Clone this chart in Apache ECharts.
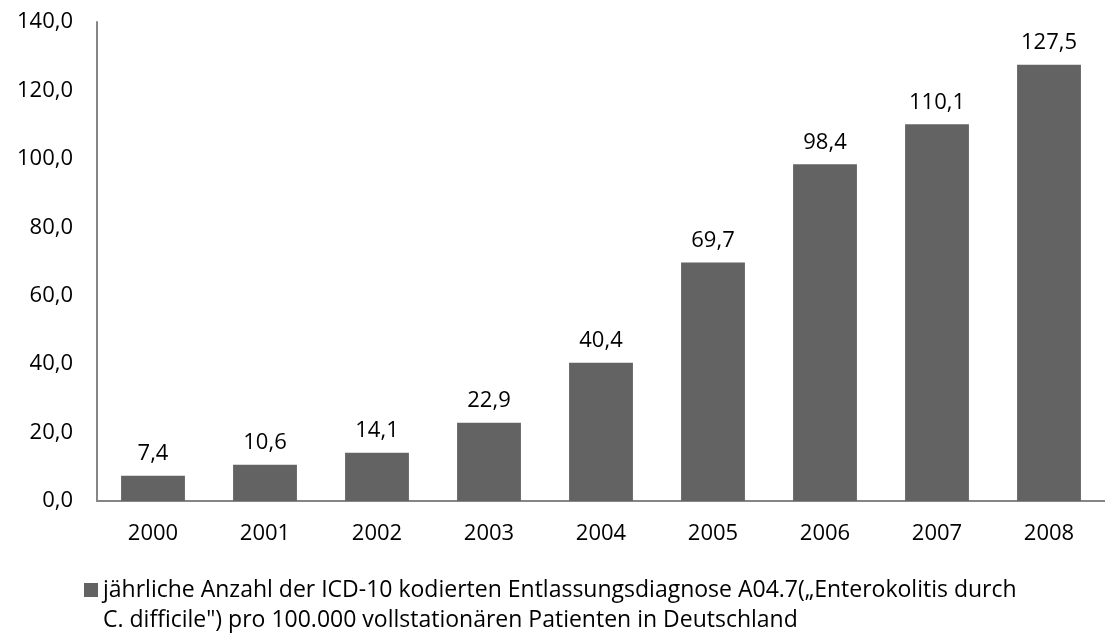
<!DOCTYPE html>
<html>
<head>
<meta charset="utf-8">
<script src="https://cdn.jsdelivr.net/npm/echarts@6/dist/echarts.min.js"></script>
<style>
  html, body { margin: 0; padding: 0; background: #fff; }
  #chart { width: 1105px; height: 635px; }
</style>
</head>
<body>
<div id="chart"></div>
<script>
const years = ['2000', '2001', '2002', '2003', '2004', '2005', '2006', '2007', '2008']
const values = [7.4, 10.6, 14.1, 22.9, 40.4, 69.7, 98.4, 110.1, 127.5]
const seriesName = 'jährliche Anzahl der ICD-10 kodierten Entlassungsdiagnose A04.7(„Enterokolitis durch\nC. difficile") pro 100.000 vollstationären Patienten in Deutschland'

const fmt = v => v.toFixed(1).replace('.', ',')
const font = '"Open Sans", sans-serif'

const chart = echarts.init(document.getElementById('chart'))
chart.setOption({
  animation: false,
  textStyle: { fontFamily: font },
  grid: {
    left: 97,
    right: -12,
    top: 22,
    bottom: 134
  },
  legend: {
    left: 84,
    top: 545,
    padding: 0,
    itemWidth: 14,
    itemHeight: 14,
    icon: 'rect',
    data: [seriesName],
    // empty first line keeps the marker level with the first text line
    formatter: name => ' \n' + name,
    textStyle: {
      fontFamily: font,
      fontSize: 23,
      color: '#000',
      lineHeight: 30
    }
  },
  xAxis: {
    type: 'category',
    data: years,
    axisLine: { lineStyle: { color: '#868686', width: 2 } },
    axisTick: { show: false },
    axisLabel: { color: '#000', fontSize: 22, margin: 22 }
  },
  yAxis: {
    type: 'value',
    min: 0,
    max: 140,
    interval: 20,
    axisLine: { show: true, lineStyle: { color: '#868686', width: 2 } },
    axisTick: { show: false },
    splitLine: { show: false },
    axisLabel: {
      color: '#000',
      fontSize: 22,
      margin: 24,
      formatter: fmt
    }
  },
  series: [{
    name: seriesName,
    type: 'bar',
    data: values,
    barCategoryGap: '43%',
    itemStyle: { color: '#636363' },
    label: {
      show: true,
      position: 'top',
      distance: 11,
      color: '#000',
      fontSize: 22,
      formatter: p => fmt(p.value)
    }
  }]
})
</script>
</body>
</html>
